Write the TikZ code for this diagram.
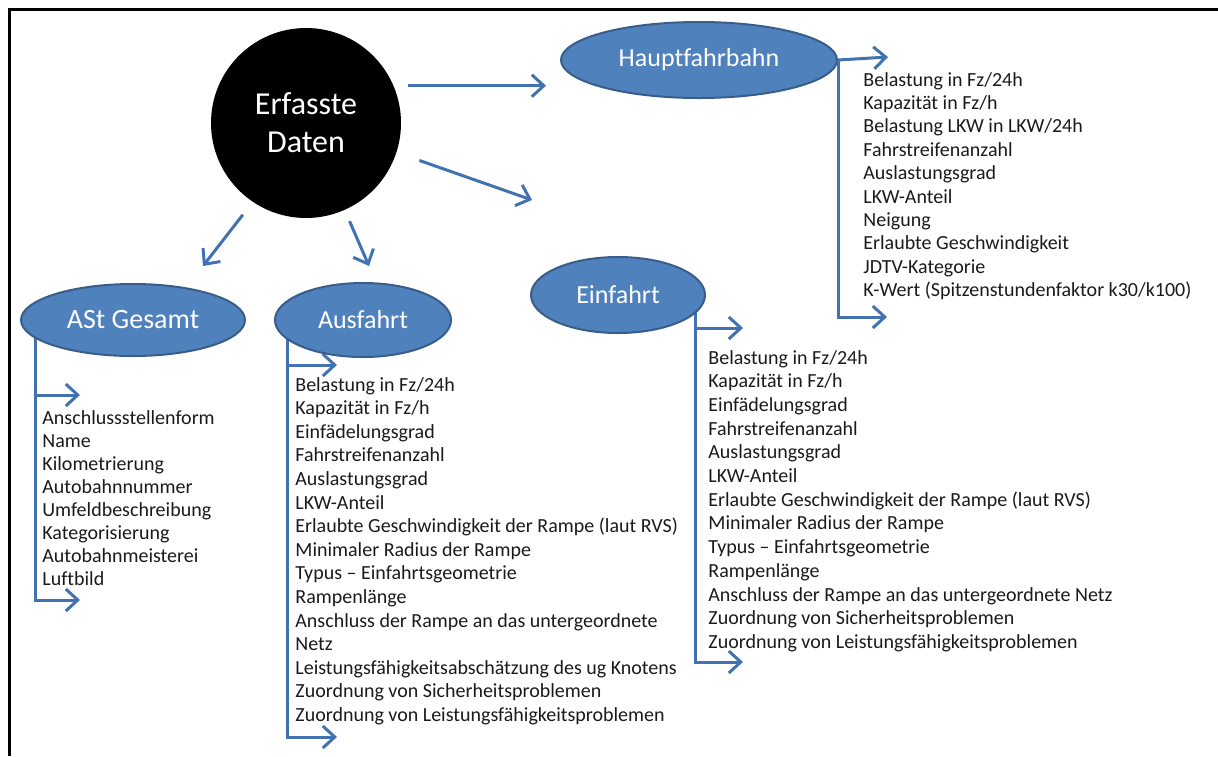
\documentclass[tikz,border=0pt]{standalone}
\usepackage{fontspec}
\setmainfont{Carlito}[Ligatures=NoCommon]
\usetikzlibrary{arrows.meta,positioning,shapes.geometric,backgrounds}

\definecolor{ellblue}{HTML}{4F81BD}
\definecolor{ellrand}{HTML}{385D8A}
\definecolor{pfeilblau}{HTML}{4272B0}
\definecolor{schrift}{HTML}{1A1A1A}

\begin{document}
\begin{tikzpicture}[x=0.5pt, y=-0.5pt,
	ellnode/.style={ellipse, fill=ellblue, draw=ellrand, line width=1pt, text=white, font=\fontsize{13}{15}\selectfont, inner sep=0pt},
	listitem/.style={anchor=base west, inner sep=0pt, text=schrift, font=\fontsize{10}{12}\selectfont},
	conn/.style={draw=pfeilblau, line width=1.5pt, -{Straight Barb[length=6pt, width=11pt]}}]
	
	\useasboundingbox (0,0) rectangle (1218,756);
	
	%Rahmen
	\draw[line width=1.5pt] (9,756) -- (9,9) -- (1218,9);
	
	%Knoten
	\node[circle, fill=black, minimum size=95pt, inner sep=0pt, text=white, align=center,
		font=\fontsize{16}{19}\selectfont] (daten) at (306,123) {Erfasste\\Daten};
	\node[ellnode, minimum width=138pt, minimum height=38pt] (hfb) at (699,60) {Hauptfahrbahn};
	\node[ellnode, minimum width=87pt, minimum height=38pt] (einf) at (618,295) {Einfahrt};
	\node[ellnode, minimum width=88pt, minimum height=37pt] (ausf) at (363,320) {Ausfahrt};
	\node[ellnode, minimum width=112pt, minimum height=36pt, font=\fontsize{14}{16}\selectfont] (ast) at (133,320) {ASt Gesamt};
	
	%Pfeile vom Kreis
	\coordinate (p-einf) at (532,200);
	\coordinate (p-ast) at (203,266);
	\coordinate (p-ausf) at (369,266);
	\draw[conn, shorten <=7pt, shorten >=7pt] (daten.23) -- (daten.23 -| hfb.west);
	\draw[conn, shorten <=12pt] (daten.-18) -- (p-einf);
	\draw[conn, shorten <=8pt] (daten.-124) -- (p-ast);
	\draw[conn, shorten <=6pt] (daten.-66) -- (p-ausf);
	
	%Klammern
	\coordinate (hfb-end) at (887,317);
	\draw[conn] (hfb.east) -- ++(50,-3);
	\draw[conn] (hfb.east) |- (hfb-end);
	
	\coordinate (einf-stem) at (695,295);
	\coordinate (einf-top) at (743,328);
	\coordinate (einf-end) at (743,662);
	\coordinate (ausf-stem) at (287,320);
	\coordinate (ausf-top) at (337,365);
	\coordinate (ausf-end) at (337,737);
	\coordinate (ast-stem) at (35,320);
	\coordinate (ast-top) at (80,395);
	\coordinate (ast-end) at (80,600);
	\begin{scope}[on background layer]
		\foreach \k in {einf, ausf, ast}{
			\draw[conn] (\k-top -| \k-stem) -- (\k-top);
			\draw[conn] (\k-stem) |- (\k-end);
		}
	\end{scope}
	
	%Listen
	\foreach \t [count=\i] in {Belastung in Fz/24h, Kapazität in Fz/h, Belastung LKW in LKW/24h,
		Fahrstreifenanzahl, Auslastungsgrad, LKW-Anteil, Neigung, Erlaubte Geschwindigkeit,
		JDTV-Kategorie, K-Wert (Spitzenstundenfaktor k30/k100)}
		\node[listitem] (hfb-\i) at (863, {86+23.4*(\i-1)}) {\t};
	
	\foreach \t [count=\i] in {Belastung in Fz/24h, Kapazität in Fz/h, Einfädelungsgrad,
		Fahrstreifenanzahl, Auslastungsgrad, LKW-Anteil, Erlaubte Geschwindigkeit der Rampe (laut RVS),
		Minimaler Radius der Rampe, Typus – Einfahrtsgeometrie, Rampenlänge,
		Anschluss der Rampe an das untergeordnete Netz, Zuordnung von Sicherheitsproblemen,
		Zuordnung von Leistungsfähigkeitsproblemen}
		\node[listitem] (einf-\i) at (708, {364+23.7*(\i-1)}) {\t};
	
	\foreach \t [count=\i] in {Belastung in Fz/24h, Kapazität in Fz/h, Einfädelungsgrad,
		Fahrstreifenanzahl, Auslastungsgrad, LKW-Anteil, Erlaubte Geschwindigkeit der Rampe (laut RVS),
		Minimaler Radius der Rampe, Typus – Einfahrtsgeometrie, Rampenlänge,
		Anschluss der Rampe an das untergeordnete, Netz, Leistungsfähigkeitsabschätzung des ug Knotens,
		Zuordnung von Sicherheitsproblemen, Zuordnung von Leistungsfähigkeitsproblemen}
		\node[listitem] (ausf-\i) at (295, {391+23.6*(\i-1)}) {\t};
	
	\foreach \t [count=\i] in {Anschlussstellenform, Name, Kilometrierung, Autobahnnummer,
		Umfeldbeschreibung, Kategorisierung, Autobahnmeisterei, Luftbild}
		\node[listitem] (ast-\i) at (42, {424+23.1*(\i-1)}) {\t};

\end{tikzpicture}
\end{document}
